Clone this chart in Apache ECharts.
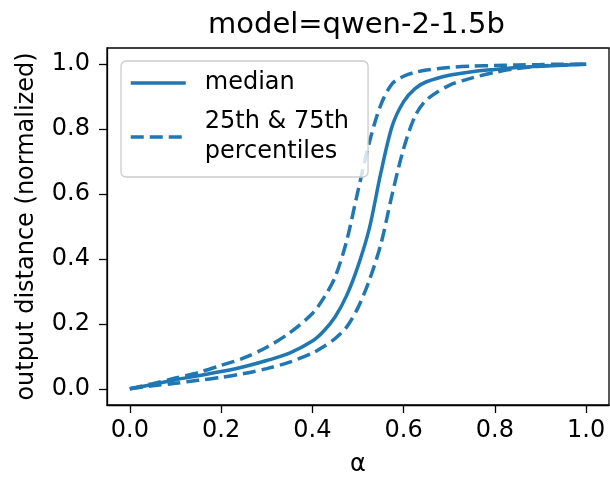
<!DOCTYPE html>
<html>
<head>
<meta charset="utf-8">
<script src="https://cdn.jsdelivr.net/npm/echarts@6/dist/echarts.min.js"></script>
<style>
html,body{margin:0;padding:0;background:#fff;}
#c{width:610px;height:485px;}
</style>
</head>
<body>
<div id="c"></div>
<script>
const alphas = [0,0.05,0.1,0.15,0.2,0.25,0.3,0.35,0.4,0.425,0.45,0.475,0.5,0.525,0.55,0.575,0.6,0.625,0.65,0.7,0.75,0.8,0.85,0.9,0.95,1.0];
const median = [0,0.013,0.028,0.040,0.053,0.068,0.087,0.110,0.147,0.178,0.222,0.287,0.378,0.495,0.665,0.81,0.885,0.925,0.946,0.966,0.977,0.984,0.99,0.994,0.997,1.0];
const p75 = [0,0.016,0.033,0.050,0.072,0.095,0.128,0.172,0.232,0.28,0.345,0.455,0.61,0.76,0.875,0.94,0.963,0.975,0.982,0.99,0.994,0.996,0.998,0.999,1.0,1.0];
const p25 = [0,0.009,0.017,0.026,0.035,0.047,0.062,0.082,0.110,0.130,0.155,0.19,0.25,0.335,0.445,0.60,0.74,0.84,0.89,0.935,0.958,0.975,0.987,0.994,0.998,1.0];
const ticks = [0,0.2,0.4,0.6,0.8,1.0];

const pairs = ys => alphas.map((a,i)=>[a, ys[i]]);
const color = '#1f77b4';
const font = 'DejaVu Sans';
const chart = echarts.init(document.getElementById('c'));
const lineSeries = (name, ys, dashed) => ({
  name, type:'line', data:pairs(ys), showSymbol:false, symbol:'none', smooth:0.3,
  lineStyle:{color:color, width:3.5, type: dashed ? [13,6] : 'solid'},
  itemStyle:{color:color, opacity:0},
  emphasis:{disabled:true}
});
chart.setOption({
  animation:false,
  textStyle:{fontFamily:font},
  title:{text:'model=qwen-2-1.5b', left:203, top:6,
    textStyle:{fontFamily:font, fontSize:29, fontWeight:'normal', color:'#000'}},
  grid:{left:107, right:1, top:48, bottom:80, show:true, borderColor:'#000', borderWidth:1.3, containLabel:false},
  legend:{
    orient:'vertical', left:121, top:61,
    padding:[7,19,10,8], itemGap:9, itemWidth:55, itemHeight:14,
    backgroundColor:'rgba(255,255,255,0.8)', borderColor:'#cccccc', borderWidth:1.3, borderRadius:5,
    data:['median','25th & 75th percentiles'],
    itemStyle:{opacity:0},
    lineStyle:{width:3.5},
    formatter: n => n === 'median' ? n : '25th & 75th\npercentiles',
    textStyle:{fontFamily:font, fontSize:24, lineHeight:30, color:'#000', padding:[0,0,0,14]}
  },
  xAxis:{type:'value', min:-0.05, max:1.05,
    name:'α', nameLocation:'middle', nameGap:48,
    nameTextStyle:{fontFamily:font, fontSize:24, color:'#000'},
    axisLine:{show:true, onZero:false, lineStyle:{color:'#000', width:1.3}},
    axisTick:{show:true, length:8, lineStyle:{color:'#000', width:1.3}, customValues:ticks},
    axisLabel:{fontFamily:font, fontSize:24, color:'#000', margin:14, customValues:ticks, formatter:v=>v.toFixed(1)},
    splitLine:{show:false}},
  yAxis:{type:'value', min:-0.05, max:1.05,
    name:'output distance (normalized)', nameLocation:'middle', nameGap:68,
    nameTextStyle:{fontFamily:font, fontSize:24, color:'#000'},
    axisLine:{show:true, onZero:false, lineStyle:{color:'#000', width:1.3}},
    axisTick:{show:true, length:8, lineStyle:{color:'#000', width:1.3}, customValues:ticks},
    axisLabel:{fontFamily:font, fontSize:24, color:'#000', margin:17, customValues:ticks, formatter:v=>v.toFixed(1)},
    splitLine:{show:false}},
  series:[
    lineSeries('median', median, false),
    lineSeries('25th & 75th percentiles', p25, true),
    lineSeries('25th & 75th percentiles', p75, true)
  ]
});
</script>
</body>
</html>
